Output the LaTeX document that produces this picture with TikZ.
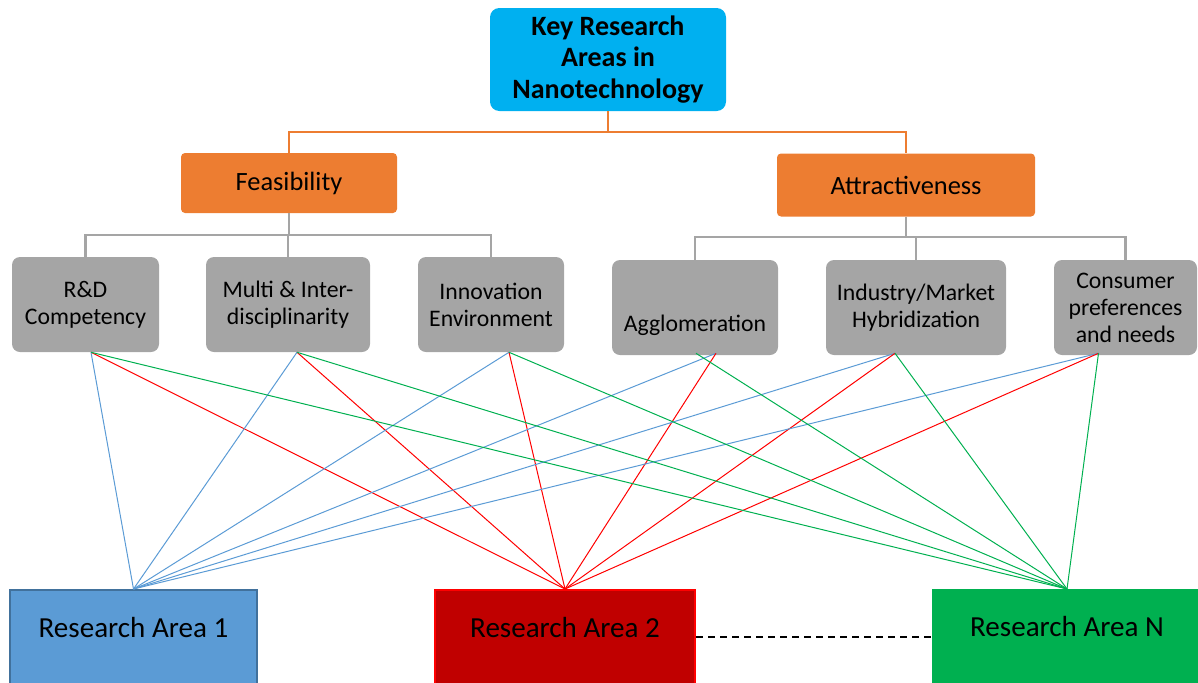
\documentclass[tikz,border=0pt]{standalone}
\usepackage{fontspec}
\setmainfont{Carlito}
\usetikzlibrary{calc}
\definecolor{skyblue}{HTML}{00B0F0}
\definecolor{tangerine}{HTML}{ED7D31}
\definecolor{slate}{HTML}{A5A5A5}
\definecolor{areablue}{HTML}{5B9BD5}
\definecolor{areablueedge}{HTML}{41719C}
\definecolor{areared}{HTML}{C00000}
\definecolor{areagreen}{HTML}{00B050}
\definecolor{linkblue}{HTML}{5B9BD5}
\definecolor{linkred}{HTML}{FF0000}
\definecolor{linkgreen}{HTML}{00B050}
\begin{document}
\begin{tikzpicture}[x=0.75pt,y=-0.75pt,
  rootbox/.style={rounded corners=7pt, fill=skyblue, align=center, inner sep=2pt,
    font=\bfseries\fontsize{21}{23.3}\selectfont, minimum width=236*0.75pt, minimum height=103*0.75pt},
  groupbox/.style={rounded corners=3pt, fill=tangerine, inner sep=2pt,
    font=\fontsize{19.8}{22}\selectfont},
  factorbox/.style={rounded corners=6pt, fill=slate, align=center, inner sep=2pt,
    font=\fontsize{17.8}{20.2}\selectfont, minimum height=95*0.75pt},
  factortext/.style={inner sep=0pt, font=\fontsize{17.8}{20.2}\selectfont},
  areabox/.style={anchor=north, inner xsep=2pt, inner ysep=0pt, text height=35.5pt, text depth=50pt,
    font=\fontsize{21.8}{24}\selectfont},
  treeorange/.style={draw=tangerine, line width=1.5pt},
  treegray/.style={draw=slate, line width=1.9pt},
  tolink/.style={line width=0.75pt},
]
\useasboundingbox (0,0) rectangle (1198,682);
\clip (0,0) rectangle (1198,682);

% root and the two groups
\node[rootbox] (root) at (608,59.5) {Key Research\\Areas in\\Nanotechnology};
\node[groupbox, minimum width=216*0.75pt, minimum height=60*0.75pt] (feas) at (289,183) {Feasibility};
\node[groupbox, minimum width=258*0.75pt, minimum height=63*0.75pt] (attr) at (906,185) {Attractiveness};

% factors
\node[factorbox, minimum width=147*0.75pt] (rd)     at (85.5,304.5) {R\&D\\Competency};
\node[factorbox, minimum width=164*0.75pt] (multi)  at (288,304.5)  {Multi \& Inter-\\disciplinarity};
\node[factorbox, minimum width=146*0.75pt] (innov)  at (491,304.5)  {Innovation\\Environment};
\node[factorbox, minimum width=166*0.75pt] (agglo)  at (695,307.5)  {};
\node[factortext] (agglotext) at (695,325) {Agglomeration};
\node[factorbox, minimum width=180*0.75pt] (indus)  at (916,307.5)  {Industry/Market\\Hybridization};
\node[factorbox, minimum width=143*0.75pt] (consum) at (1125.5,307.5) {Consumer\\preferences\\and needs};

% research areas
\node[areabox, fill=areablue, draw=areablueedge, line width=1.5pt, minimum width=247*0.75pt] (ra1) at (133.5,589) {Research Area 1};
\node[areabox, fill=areared, draw=linkred, line width=1.5pt, minimum width=260*0.75pt] (ra2) at (565,589) {Research Area 2};
\node[areabox, fill=areagreen, minimum width=270*0.75pt] (ran) at (1067,589) {Research Area N};

% tree connectors
\coordinate (obus) at (608,132);
\draw[treeorange] (root.south) -- (obus);
\draw[treeorange] (feas.north) |- (obus) -| (attr.north);

\coordinate (fbus) at (289,235);
\draw[treegray] (feas.south) -- (fbus);
\draw[treegray] (rd.north) |- (fbus) -| (innov.north);
\draw[treegray] (multi.north) -- (multi.north |- fbus);

\coordinate (abus) at (906,237);
\draw[treegray] (attr.south) -- (abus);
\draw[treegray] (agglo.north) |- (abus) -| (consum.north);
\draw[treegray] (indus.north) -- (indus.north |- abus);

% link origins on the factor boxes
\coordinate (s1) at ($(rd.south)+(5.5,0)$);
\coordinate (s2) at ($(multi.south)+(9,0)$);
\coordinate (s3) at ($(innov.south)+(18,0)$);
\coordinate (s4) at ($(agglo.south)+(21,-2)$);
\coordinate (s4g) at ($(agglo.south)+(1,-2)$);
\coordinate (s5) at ($(indus.south)+(-21,-2)$);
\coordinate (s6) at ($(consum.south)+(-27,-2)$);

% factor-to-area links
\foreach \s in {s1,s2,s3,s4,s5,s6}{
  \draw[tolink, linkblue] (\s) -- (ra1.north);
  \draw[tolink, linkred] (\s) -- (ra2.north);
}
\foreach \s in {s1,s2,s3,s4g,s5,s6}{
  \draw[tolink, linkgreen] (\s) -- (ran.north);
}

\draw[line width=1.4pt, dash pattern=on 5.5pt off 3.5pt] (ra2.east |- 0,637) -- (ran.west |- 0,637);
\end{tikzpicture}
\end{document}
